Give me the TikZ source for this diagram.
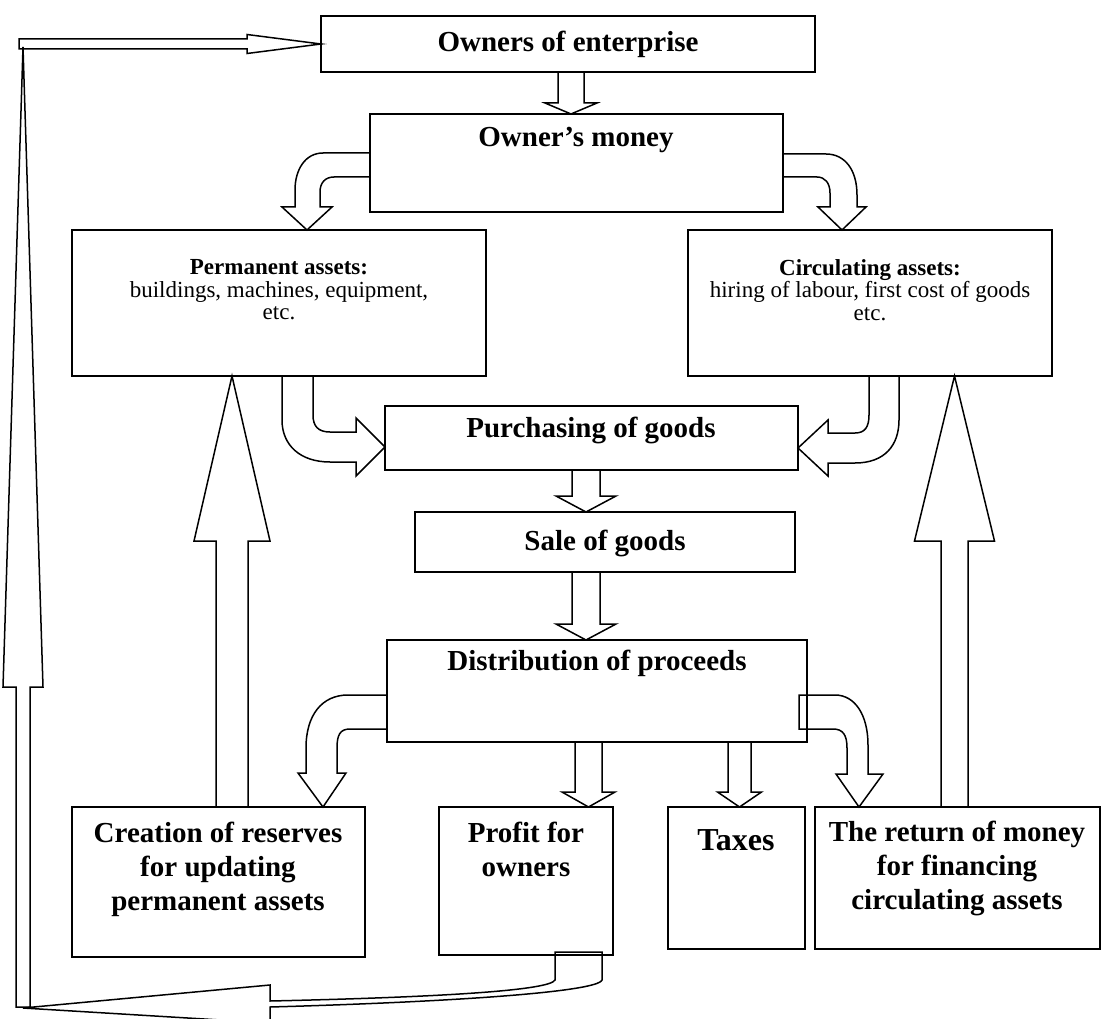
\documentclass[tikz,border=0pt]{standalone}
\usepackage{fontspec}
\setmainfont{Liberation Serif}
\usetikzlibrary{positioning,calc}

% hollow block arrows: from, to, half shaft, half head, head length
\newcommand{\downblk}[5]{\draw[blk] let \p1=(#1), \p2=(#2) in (\x1-#3,\y1) -- (\x1-#3,\y2+#5) -- (\x1-#4,\y2+#5) -- (\x1,\y2) -- (\x1+#4,\y2+#5) -- (\x1+#3,\y2+#5) -- (\x1+#3,\y1) -- cycle;}
\newcommand{\upblk}[5]{\draw[blk] let \p1=(#1), \p2=(#2) in (\x1-#3,\y1) -- (\x1-#3,\y2-#5) -- (\x1-#4,\y2-#5) -- (\x1,\y2) -- (\x1+#4,\y2-#5) -- (\x1+#3,\y2-#5) -- (\x1+#3,\y1) -- cycle;}
\newcommand{\rightblk}[5]{\draw[blk] let \p1=(#1), \p2=(#2) in (\x1,\y1-#3) -- (\x2-#5,\y1-#3) -- (\x2-#5,\y1-#4) -- (\x2,\y2) -- (\x2-#5,\y1+#4) -- (\x2-#5,\y1+#3) -- (\x1,\y1+#3) -- cycle;}

\tikzset{
	box/.style={draw, line width=1.5pt, inner sep=0pt, outer sep=0pt},
	blk/.style={draw, line width=1.5pt, line join=miter},
	bigtxt/.style={align=center, inner sep=0pt, font=\fontsize{29}{34}\selectfont\bfseries},
	smalltxt/.style={align=center, inner sep=0pt, font=\fontsize{23}{22.5}\selectfont},
	taxtxt/.style={inner sep=0pt, font=\fontsize{32}{36}\selectfont\bfseries}
}

\begin{document}
\begin{tikzpicture}[x=1pt, y=-1pt, line cap=butt]
	\useasboundingbox (0,0) rectangle (1103,1019);
	\clip (0,0) rectangle (1103,1019);
	% boxes
	\node[box, bigtxt, minimum width=494pt, minimum height=56pt] (owners) at (568,44) {Owners of enterprise};
	\node[box, minimum width=413pt, minimum height=98pt] (money) at (576.5,163) {};
	\node[bigtxt] (moneytext) at (576,140) {Owner's money};
	\node[box, minimum width=414pt, minimum height=146pt] (perm) at (279,303) {};
	\node[smalltxt] (permtext) at (279,290) {\textbf{Permanent assets:}\\ buildings, machines, equipment,\\ etc.};
	\node[box, minimum width=364pt, minimum height=146pt] (circ) at (870,303) {};
	\node[smalltxt] (circtext) at (870,290) {\textbf{Circulating assets:}\\ hiring of labour, first cost of goods\\ etc.};
	\node[box, minimum width=413pt, minimum height=64pt] (purch) at (591.5,438) {};
	\node[bigtxt] (purchtext) at (591,430) {Purchasing of goods};
	\node[box, minimum width=380pt, minimum height=60pt] (sale) at (605,542) {};
	\node[bigtxt] (saletext) at (605,543) {Sale of goods};
	\node[box, minimum width=420pt, minimum height=102pt] (dist) at (597,691) {};
	\node[bigtxt] (disttext) at (597,663) {Distribution of proceeds};
	\node[box, minimum width=293pt, minimum height=150pt] (reserves) at (218.5,882) {};
	\node[bigtxt] (restext) at (218,869) {Creation of reserves\\ for updating\\ permanent assets};
	\node[box, minimum width=174pt, minimum height=148pt] (profit) at (526,881) {};
	\node[bigtxt] (proftext) at (526,849) {Profit for\\ owners};
	\node[box, minimum width=137pt, minimum height=142pt] (taxes) at (736.5,878) {};
	\node[taxtxt] (taxtext) at (736,840) {Taxes};
	\node[box, minimum width=285pt, minimum height=142pt] (back) at (957.5,878) {};
	\node[bigtxt] (backtext) at (957,868) {The return of money\\ for financing\\ circulating assets};
	% straight arrows
	\downblk{571,0 |- owners.south}{571,0 |- money.north}{13pt}{26pt}{11pt}
	\downblk{586,0 |- purch.south}{586,0 |- sale.north}{14pt}{30pt}{16pt}
	\downblk{586,0 |- sale.south}{586,0 |- dist.north}{14pt}{30pt}{16pt}
	\downblk{588.5,0 |- dist.south}{588.5,0 |- profit.north}{13.5pt}{26.5pt}{15pt}
	\downblk{739.5,0 |- dist.south}{739.5,0 |- taxes.north}{11.5pt}{22pt}{15pt}
	\upblk{232,0 |- reserves.north}{232,0 |- perm.south}{16pt}{38pt}{165pt}
	\upblk{954.5,0 |- back.north}{954.5,0 |- circ.south}{13.5pt}{40pt}{165pt}
	\upblk{23,1007}{23,47}{7pt}{20pt}{640pt}
	\rightblk{19,0 |- owners.west}{owners.west}{5pt}{9.5pt}{74pt}
	% bent arrows
	\draw[blk] (money.west |- 0,153) -- (323,153) .. controls (305,153) and (295,170) .. (295,190) -- (295,207) -- (282,207) -- (307,0 |- perm.north) -- (332,207) -- (320,207) -- (320,192) .. controls (320,183) and (325,177) .. (334,177) -- (money.west |- 0,177) -- cycle;
	\draw[blk] (money.east |- 0,154) -- (826,154) .. controls (845,154) and (857,170) .. (857,195) -- (857,207) -- (866,207) -- (842,0 |- circ.north) -- (818,207) -- (830,207) -- (830,193) .. controls (830,183) and (825,177) .. (817,177) -- (money.east |- 0,177) -- cycle;
	\draw[blk] (282,0 |- perm.south) -- (282,420) .. controls (282,445) and (300,462) .. (330,462) -- (356,462) -- (356,476) -- (purch.west |- 0,447) -- (356,418) -- (356,432) -- (330,432) .. controls (318,432) and (313,426) .. (313,415) -- (313,0 |- perm.south) -- cycle;
	\draw[blk] (899,0 |- circ.south) -- (899,420) .. controls (899,445) and (885,463) .. (855,463) -- (828,463) -- (828,476) -- (purch.east |- 0,448) -- (828,420) -- (828,433) -- (855,433) .. controls (865,433) and (869,427) .. (869,415) -- (869,0 |- circ.south) -- cycle;
	\draw[blk] (dist.west |- 0,695) -- (348,695) .. controls (322,695) and (306,715) .. (306,748) -- (306,773) -- (298,773) -- (323,0 |- reserves.north) -- (346,773) -- (337,773) -- (337,748) .. controls (337,735) and (340,729) .. (350,729) -- (dist.west |- 0,729) -- cycle;
	\draw[blk] (799,695) -- (835,695) .. controls (855,695) and (868,715) .. (868,745) -- (868,774) -- (883,774) -- (859,0 |- back.north) -- (836,774) -- (847,774) -- (847,748) .. controls (847,735) and (843,729) .. (833,729) -- (799,729) -- cycle;
	\draw[blk] (555,0 |- profit.south) ++(0,-3) -- (555,980) .. controls (550,990) and (450,997) .. (270,1001) -- (270,985) -- (23,1008) -- (270,1023) -- (270,1007) .. controls (450,1002) and (598,992) .. (602,980) -- (602,952) -- cycle;
\end{tikzpicture}
\end{document}
